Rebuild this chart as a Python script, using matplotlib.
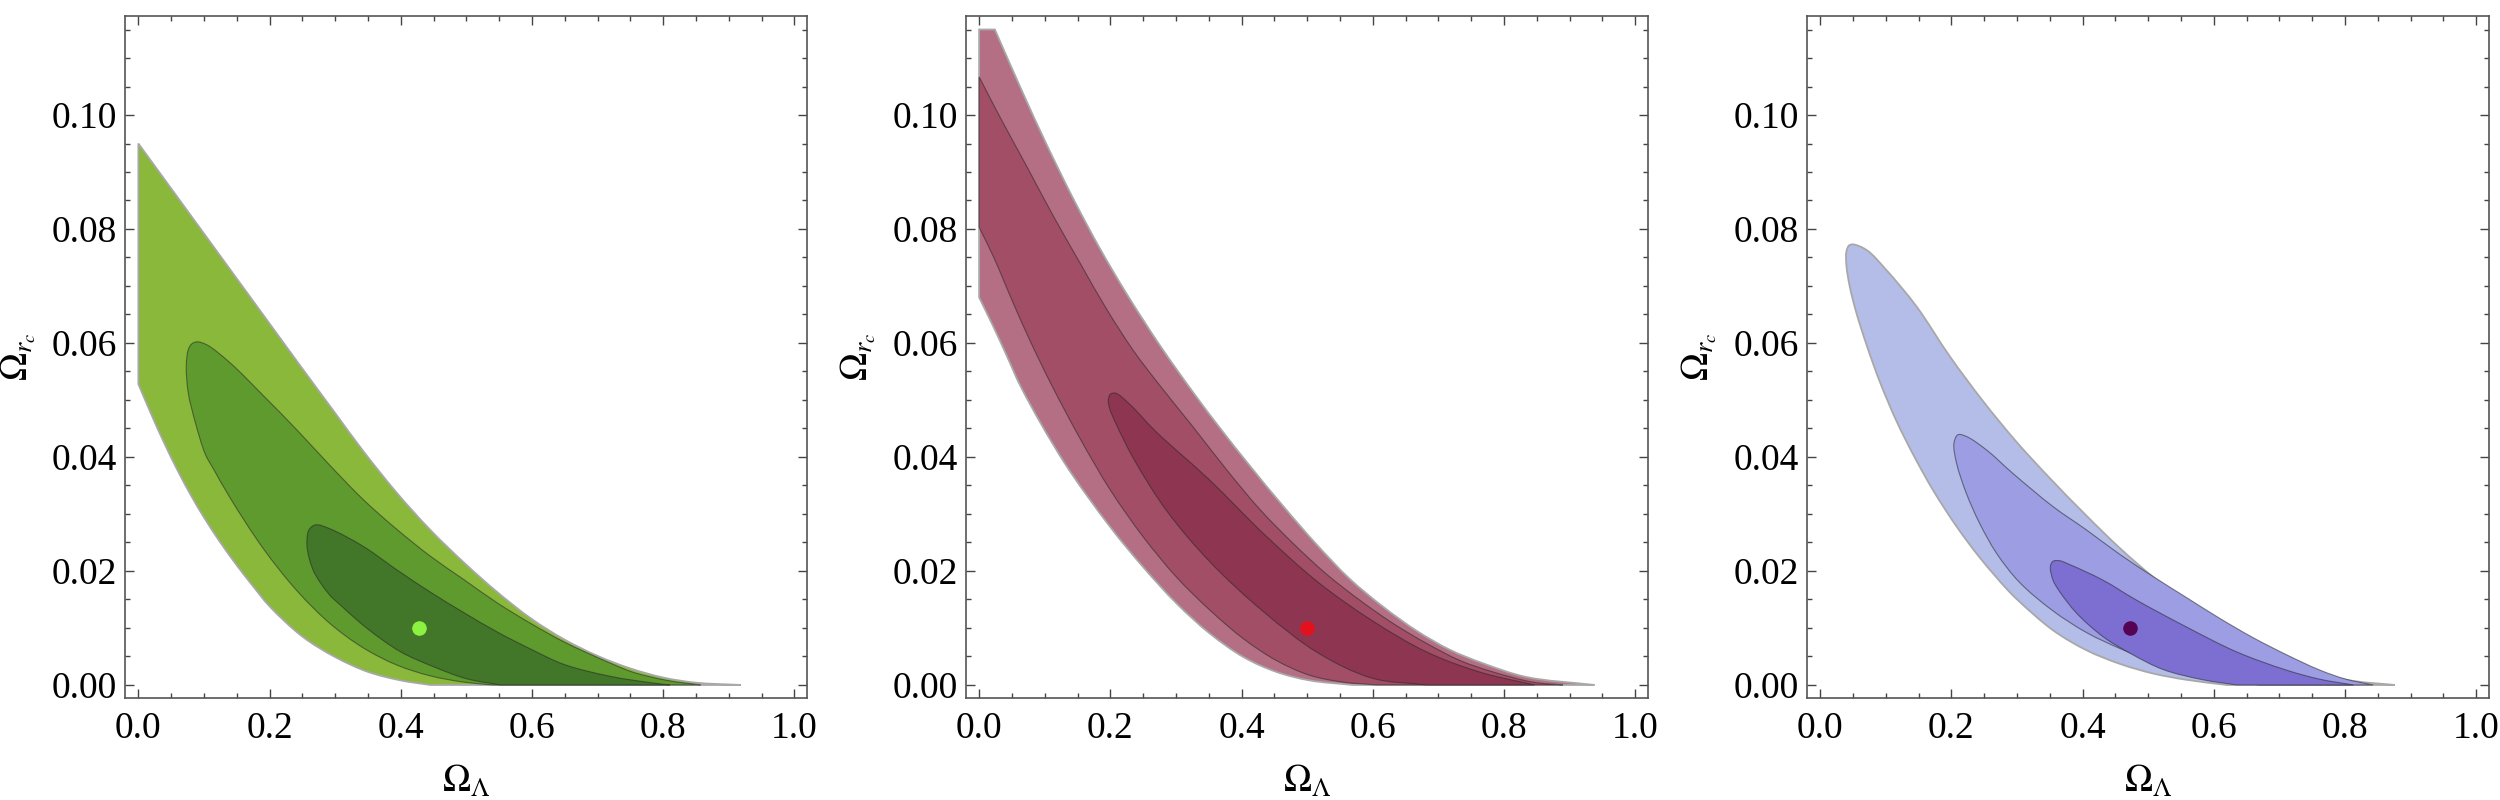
import numpy as np
import matplotlib
matplotlib.use("Agg")
import matplotlib.pyplot as plt
from matplotlib.path import Path
from matplotlib.patches import PathPatch
from matplotlib.ticker import MultipleLocator, FormatStrFormatter

plt.rcParams['mathtext.fontset'] = 'stix'
plt.rcParams['font.family'] = ['Liberation Serif', 'DejaVu Serif']

# ---------------- data ----------------
# Panel 1 (green): boundary curves of the three nested regions
g_outer_up_x = [0.000, 0.050, 0.100, 0.150, 0.200, 0.250, 0.300, 0.343, 0.394, 0.445, 0.496, 0.547,
                0.598, 0.649, 0.700, 0.750, 0.800, 0.850, 0.918]
g_outer_up_y = [0.0950, 0.0871, 0.0792, 0.0713, 0.0634, 0.0555, 0.0477, 0.0410, 0.0337, 0.0272, 0.0215, 0.0163,
                0.0117, 0.0080, 0.0051, 0.0029, 0.0013, 0.0004, 0.0000]
g_outer_lo_x = [0.445, 0.400, 0.350, 0.300, 0.250, 0.200, 0.175, 0.150, 0.125, 0.100, 0.080, 0.060,
                0.040, 0.020, 0.000]
g_outer_lo_y = [0.0000, 0.0008, 0.0023, 0.0049, 0.0085, 0.0138, 0.0173, 0.0210, 0.0250, 0.0294, 0.0333, 0.0376,
                0.0423, 0.0474, 0.0528]
g_mid_x = [0.540, 0.496, 0.445, 0.394, 0.343, 0.293, 0.242, 0.190, 0.140, 0.115, 0.102, 0.087, 0.076,
           0.073, 0.076, 0.081, 0.089, 0.104, 0.140, 0.191, 0.242, 0.293, 0.343, 0.394, 0.445, 0.496,
           0.547, 0.598, 0.648, 0.720, 0.755, 0.806, 0.857]
g_mid_y = [0.0000, 0.0005, 0.0016, 0.0035, 0.0065, 0.0107, 0.0165, 0.0240, 0.0328, 0.0378, 0.0405, 0.0460, 0.0513,
           0.0560, 0.0588, 0.0598, 0.0602, 0.0597, 0.0565, 0.0507, 0.0447, 0.0384, 0.0325, 0.0273, 0.0226, 0.0185,
           0.0144, 0.0108, 0.0076, 0.0038, 0.0022, 0.0008, 0.0000]
g_in_x = [0.552, 0.500, 0.450, 0.400, 0.350, 0.310, 0.290, 0.267, 0.258, 0.257, 0.260, 0.270, 0.292,
          0.343, 0.394, 0.445, 0.496, 0.547, 0.598, 0.649, 0.720, 0.781, 0.810]
g_in_y = [0.0000, 0.0011, 0.0032, 0.0058, 0.0098, 0.0138, 0.0160, 0.0200, 0.0235, 0.0255, 0.0272, 0.0281, 0.0274,
          0.0243, 0.0202, 0.0163, 0.0127, 0.0093, 0.0063, 0.0036, 0.0015, 0.0004, 0.0000]
g_best = (0.428, 0.010)

# Panel 2 (red)
r_outer_up_x = [0.024, 0.065, 0.103, 0.144, 0.184, 0.225, 0.276, 0.329, 0.367, 0.413, 0.464, 0.514,
                0.565, 0.616, 0.667, 0.717, 0.768, 0.834, 0.938]
r_outer_up_y = [0.1150, 0.1043, 0.0948, 0.0852, 0.0766, 0.0686, 0.0595, 0.0509, 0.0451, 0.0384, 0.0313, 0.0247,
                0.0186, 0.0137, 0.0095, 0.0062, 0.0038, 0.0014, 0.0000]
r_outer_lo_x = [0.570, 0.504, 0.453, 0.403, 0.352, 0.301, 0.250, 0.200, 0.130, 0.065, 0.042, 0.022, 0.000]
r_outer_lo_y = [0.0000, 0.0008, 0.0023, 0.0049, 0.0090, 0.0143, 0.0207, 0.0277, 0.0390, 0.0520, 0.0578, 0.0628,
                0.0680]
r_corner_x = [0.000]
r_corner_y = [0.1150]
r_mid_up_x = [0.000, 0.032, 0.073, 0.113, 0.154, 0.194, 0.235, 0.271, 0.326, 0.377, 0.428, 0.479,
              0.529, 0.580, 0.631, 0.682, 0.733, 0.783, 0.844, 0.890]
r_mid_up_y = [0.1067, 0.0996, 0.0909, 0.0823, 0.0740, 0.0660, 0.0587, 0.0532, 0.0453, 0.0378, 0.0308, 0.0248,
              0.0195, 0.0149, 0.0108, 0.0073, 0.0043, 0.0023, 0.0005, 0.0000]
r_mid_lo_x = [0.606, 0.555, 0.504, 0.453, 0.403, 0.352, 0.301, 0.250, 0.200, 0.155, 0.111, 0.078,
              0.052, 0.022, 0.000]
r_mid_lo_y = [0.0000, 0.0005, 0.0017, 0.0043, 0.0081, 0.0131, 0.0189, 0.0260, 0.0342, 0.0430, 0.0525, 0.0603,
              0.0670, 0.0751, 0.0803]
r_in_x = [0.682, 0.599, 0.517, 0.434, 0.351, 0.285, 0.236, 0.210, 0.199, 0.197, 0.200, 0.208, 0.230,
          0.269, 0.351, 0.434, 0.517, 0.599, 0.682, 0.765, 0.847]
r_in_y = [0.0000, 0.0012, 0.0056, 0.0128, 0.0217, 0.0307, 0.0396, 0.0455, 0.0485, 0.0500, 0.0510, 0.0512, 0.0492,
          0.0445, 0.0360, 0.0265, 0.0180, 0.0113, 0.0058, 0.0022, 0.0000]
r_best = (0.500, 0.010)

# Panel 3 (blue)
b_outer_x = [0.620, 0.559, 0.508, 0.457, 0.406, 0.355, 0.304, 0.284, 0.243, 0.208, 0.172, 0.142, 0.116,
             0.091, 0.071, 0.055, 0.045, 0.040, 0.040, 0.044, 0.050, 0.071, 0.101, 0.147, 0.198, 0.249,
             0.299, 0.350, 0.406, 0.457, 0.508, 0.559, 0.609, 0.660, 0.711, 0.762, 0.813, 0.876]
b_outer_y = [0.0000, 0.0009, 0.0020, 0.0037, 0.0061, 0.0096, 0.0146, 0.0169, 0.0224, 0.0278, 0.0342, 0.0404, 0.0464,
             0.0532, 0.0596, 0.0654, 0.0700, 0.0737, 0.0760, 0.0771, 0.0773, 0.0763, 0.0728, 0.0664, 0.0576, 0.0497,
             0.0427, 0.0363, 0.0297, 0.0240, 0.0189, 0.0144, 0.0101, 0.0066, 0.0039, 0.0019, 0.0007, 0.0000]
b_mid_x = [0.670, 0.609, 0.559, 0.508, 0.457, 0.406, 0.355, 0.304, 0.269, 0.243, 0.223, 0.208, 0.204,
           0.210, 0.223, 0.254, 0.294, 0.355, 0.406, 0.457, 0.508, 0.559, 0.609, 0.660, 0.711, 0.762,
           0.802, 0.843]
b_mid_y = [0.0000, 0.0009, 0.0022, 0.0041, 0.0064, 0.0092, 0.0130, 0.0180, 0.0231, 0.0284, 0.0336, 0.0389, 0.0424,
           0.0439, 0.0436, 0.0412, 0.0371, 0.0313, 0.0272, 0.0229, 0.0190, 0.0153, 0.0117, 0.0083, 0.0053, 0.0026,
           0.0010, 0.0000]
b_in_x = [0.635, 0.584, 0.523, 0.472, 0.431, 0.391, 0.365, 0.355, 0.351, 0.355, 0.365, 0.381, 0.431,
          0.482, 0.558, 0.635, 0.711, 0.762, 0.813]
b_in_y = [0.0000, 0.0009, 0.0027, 0.0056, 0.0085, 0.0126, 0.0164, 0.0184, 0.0208, 0.0217, 0.0218, 0.0211, 0.0184,
          0.0149, 0.0102, 0.0058, 0.0026, 0.0010, 0.0000]
b_best = (0.472, 0.010)

x_label = r'$\Omega_{\Lambda}$'
y_label = r'$\Omega_{r_c}$'

# each region: list of pieces (xs, ys, smooth); pieces are joined by straight segments
panels = [
    dict(regions=[[(g_outer_up_x, g_outer_up_y, True), (g_outer_lo_x, g_outer_lo_y, True)],
                  [(g_mid_x, g_mid_y, True)],
                  [(g_in_x, g_in_y, True)]],
         colors=['#89B83B', '#5F9A2F', '#427628'], best=g_best, dot='#8CF242'),
    dict(regions=[[(r_outer_up_x, r_outer_up_y, True), (r_outer_lo_x, r_outer_lo_y, True),
                   (r_corner_x, r_corner_y, False)],
                  [(r_mid_up_x, r_mid_up_y, True), (r_mid_lo_x, r_mid_lo_y, True)],
                  [(r_in_x, r_in_y, True)]],
         colors=['#B46F84', '#A14E66', '#8E3651'], best=r_best, dot='#E3111B'),
    dict(regions=[[(b_outer_x, b_outer_y, True)],
                  [(b_mid_x, b_mid_y, True)],
                  [(b_in_x, b_in_y, True)]],
         colors=['#B3BDE8', '#9C9DE3', '#7D6FD2'], best=b_best, dot='#560353'),
]

YS = 0.115  # scale used only to shape the curve through the read points


def curve_through(xs, ys):
    """Cubic Bezier control points of a centripetal Catmull-Rom curve through the points."""
    P = np.column_stack([np.asarray(xs, float), np.asarray(ys, float) / YS])
    n = len(P)
    ext = np.vstack([2 * P[0] - P[1], P, 2 * P[-1] - P[-2]])
    verts, codes = [], []
    for i in range(1, n):
        p0, p1, p2, p3 = ext[i - 1], ext[i], ext[i + 1], ext[i + 2]
        d1 = max(np.linalg.norm(p1 - p0), 1e-9) ** 0.5
        d2 = max(np.linalg.norm(p2 - p1), 1e-9) ** 0.5
        d3 = max(np.linalg.norm(p3 - p2), 1e-9) ** 0.5
        b1 = (d1 ** 2 * p2 - d2 ** 2 * p0 + (2 * d1 ** 2 + 3 * d1 * d2 + d2 ** 2) * p1) / (3 * d1 * (d1 + d2))
        b2 = (d3 ** 2 * p1 - d2 ** 2 * p3 + (2 * d3 ** 2 + 3 * d3 * d2 + d2 ** 2) * p2) / (3 * d3 * (d3 + d2))
        verts += [b1, b2, p2]
        codes += [Path.CURVE4] * 3
    return verts, codes


def region_path(pieces):
    verts, codes = [], []
    for xs, ys, smooth in pieces:
        verts.append((xs[0], ys[0] / YS))
        codes.append(Path.MOVETO if len(codes) == 0 else Path.LINETO)
        if smooth and len(xs) > 2:
            v, c = curve_through(xs, ys)
            verts += [tuple(p) for p in v]
            codes += c
        else:
            for x, y in zip(xs[1:], ys[1:]):
                verts.append((x, y / YS))
                codes.append(Path.LINETO)
    verts.append(verts[0])
    codes.append(Path.CLOSEPOLY)
    arr = np.array(verts, float)
    arr[:, 1] *= YS
    return Path(arr, codes)


fig = plt.figure(figsize=(25, 8), dpi=100)
lefts = [0.0501, 0.3864, 0.7228]
for left, p in zip(lefts, panels):
    ax = fig.add_axes([left, 0.1274, 0.2729, 0.8521])
    for i, (pieces, c) in enumerate(zip(p['regions'], p['colors'])):
        path = region_path(pieces)
        if i == 0:
            patch = PathPatch(path, facecolor=c, edgecolor='#a8a8a8', linewidth=1.3, zorder=1 + i)
        else:
            patch = PathPatch(path, facecolor=c, edgecolor=(0.15, 0.15, 0.15, 0.55), linewidth=0.8, zorder=1 + i)
        ax.add_patch(patch)
    ax.plot([p['best'][0]], [p['best'][1]], 'o', color=p['dot'], markersize=10.5,
            markeredgewidth=0, zorder=10)
    ax.set_xlim(-0.02, 1.02)
    ax.set_ylim(-0.0023, 0.1173)
    ax.xaxis.set_major_locator(MultipleLocator(0.2))
    ax.xaxis.set_minor_locator(MultipleLocator(0.05))
    ax.yaxis.set_major_locator(MultipleLocator(0.02))
    ax.yaxis.set_minor_locator(MultipleLocator(0.005))
    ax.xaxis.set_major_formatter(FormatStrFormatter('%.1f'))
    ax.yaxis.set_major_formatter(FormatStrFormatter('%.2f'))
    ax.tick_params(which='both', direction='in', top=True, right=True, color='#444444', width=1.0)
    ax.tick_params(which='major', length=6.5, labelsize=27)
    ax.tick_params(axis='x', which='major', pad=9.5)
    ax.tick_params(axis='y', which='major', pad=6)
    ax.tick_params(which='minor', length=3.6)
    for s in ax.spines.values():
        s.set_color('#555555')
        s.set_linewidth(1.2)
    ax.set_xlabel(x_label, fontsize=27, labelpad=13)
    ax.set_ylabel(y_label, fontsize=27, labelpad=10)

fig.savefig('out.png', dpi=100)
